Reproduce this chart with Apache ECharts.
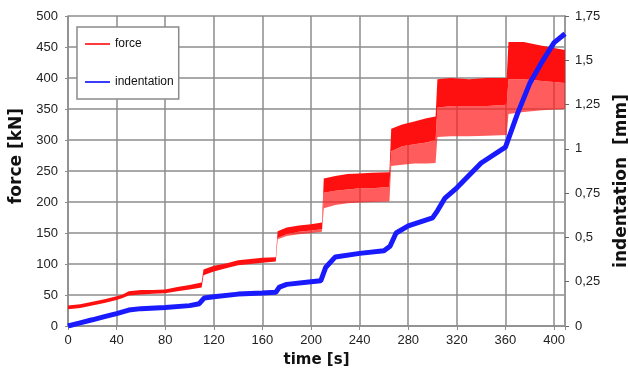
<!DOCTYPE html>
<html>
<head>
<meta charset="utf-8">
<script src="https://cdn.jsdelivr.net/npm/echarts@6/dist/echarts.min.js"></script>
<style>
  html, body { margin: 0; padding: 0; background: #fff; }
  #main { width: 628px; height: 377px; }
</style>
</head>
<body>
<div id="main"></div>
<script>
// force band: upper edge, bottom of the solid part, bottom of the stripes
var forceTime = [0, 10, 20, 30, 40, 45, 50, 60, 70, 80, 90, 100, 110, 111.5, 120, 130, 140, 150, 160, 171, 172.5, 180, 190, 200, 209, 210.5, 220, 230, 240, 250, 264.5, 266, 275, 285, 295, 302.5, 304, 315, 330, 345, 361, 362.5, 375, 390, 409];
var forceTop = [33, 35, 39, 43, 48, 51, 56, 58, 58, 59, 63, 66, 70, 91, 97, 101, 106, 108, 110, 111, 153, 159, 162, 164, 167, 238, 242, 245, 246, 247, 248, 318, 325, 330, 335, 338, 398, 400, 398, 400, 400, 458, 458, 452, 445];
var forceMid = [27, 29, 33, 37, 42, 45, 49, 51, 52, 53, 56, 59, 62, 82, 88, 93, 98, 100, 102, 104, 142, 148, 152, 154, 156, 215, 218, 220, 222, 222, 224, 282, 290, 293, 296, 300, 352, 355, 355, 355, 357, 398, 398, 395, 392];
var forceLow = [27, 29, 33, 37, 42, 45, 49, 51, 52, 53, 56, 59, 62, 82, 88, 93, 98, 100, 102, 104, 140, 145, 148, 150, 152, 190, 195, 198, 199, 200, 201, 258, 260, 262, 262, 263, 305, 306, 306, 307, 308, 342, 345, 348, 350];

// indentation [mm]
var indTime = [0, 10, 20, 30, 40, 50, 60, 80, 100, 108, 112, 120, 140, 160, 171, 174, 180, 200, 208, 212, 220, 240, 260, 265, 270, 280, 300, 304, 310, 320, 340, 360, 370, 380, 390, 400, 409];
var indValue = [0, 0.018, 0.035, 0.053, 0.07, 0.09, 0.098, 0.105, 0.115, 0.126, 0.158, 0.165, 0.18, 0.186, 0.19, 0.22, 0.235, 0.25, 0.255, 0.33, 0.39, 0.41, 0.425, 0.45, 0.525, 0.565, 0.61, 0.65, 0.72, 0.78, 0.92, 1.01, 1.2, 1.37, 1.49, 1.6, 1.65];

var gridColor = '#8c8c8c';
var labelFont = 'Liberation Sans';
var titleFont = 'DejaVu Sans';

// polygon between two edges, drawn through the axis scales
function bandSeries(upper, lower, color) {
  return {
    type: 'custom',
    name: 'force',
    coordinateSystem: 'cartesian2d',
    data: [[forceTime[0], upper[0]]],
    clip: true,
    z: 2,
    renderItem: function (params, api) {
      var pts = [];
      for (var i = 0; i < forceTime.length; i++) {
        pts.push(api.coord([forceTime[i], upper[i]]));
      }
      for (var j = forceTime.length - 1; j >= 0; j--) {
        pts.push(api.coord([forceTime[j], lower[j]]));
      }
      return { type: 'polygon', shape: { points: pts }, style: { fill: color } };
    }
  };
}

var indData = indTime.map(function (t, i) { return [t, indValue[i]]; });

var myChart = echarts.init(document.getElementById('main'));
var option = {
  animation: false,
  grid: { left: 68, right: 63, top: 16, bottom: 51, outerBoundsMode: 'none' },
  legend: {
    orient: 'vertical',
    left: 77,
    top: 27,
    padding: [11, 5, 11, 8],
    itemGap: 26,
    itemWidth: 25,
    itemHeight: 2,
    icon: 'rect',
    backgroundColor: '#fff',
    borderColor: '#8a8a8a',
    borderWidth: 1.5,
    textStyle: { fontFamily: labelFont, fontSize: 12, color: '#111' },
    data: [
      { name: 'force', itemStyle: { color: '#ff3b3b' } },
      { name: 'indentation', itemStyle: { color: '#3b3bff' } }
    ]
  },
  xAxis: {
    type: 'value',
    min: 0,
    max: 409,
    interval: 40,
    name: 'time [s]',
    nameLocation: 'middle',
    nameGap: 27,
    nameTextStyle: { fontFamily: titleFont, fontWeight: 'bold', fontSize: 15, color: '#111' },
    axisLine: { lineStyle: { color: gridColor, width: 1.5 } },
    axisTick: { length: 4, lineStyle: { color: gridColor } },
    axisLabel: {
      margin: 8,
      fontFamily: labelFont,
      fontSize: 13,
      color: '#222',
      formatter: function (v) { return v % 40 === 0 ? String(v) : ''; }
    },
    splitLine: { lineStyle: { color: gridColor, width: 1.5 } }
  },
  yAxis: [
    {
      type: 'value',
      min: 0,
      max: 500,
      interval: 50,
      name: 'force [kN]',
      nameLocation: 'middle',
      nameGap: 40,
      nameRotate: 90,
      nameTextStyle: { fontFamily: titleFont, fontWeight: 'bold', fontSize: 17, color: '#111', padding: [0, 0, 0, 30] },
      axisLine: { show: true, lineStyle: { color: gridColor, width: 1.5 } },
      axisTick: { show: true, length: 3, lineStyle: { color: gridColor } },
      axisLabel: { margin: 10, fontFamily: labelFont, fontSize: 13, color: '#222' },
      splitLine: { lineStyle: { color: gridColor, width: 1.5 } }
    },
    {
      type: 'value',
      position: 'right',
      min: 0,
      max: 1.75,
      interval: 0.25,
      name: 'indentation  [mm]',
      nameLocation: 'middle',
      nameGap: 48,
      nameRotate: 90,
      nameTextStyle: { fontFamily: titleFont, fontWeight: 'bold', fontSize: 17, color: '#111', padding: [0, 20, 0, 0] },
      axisLine: { show: true, lineStyle: { color: '#9a9a9a', width: 2 } },
      axisTick: { show: true, length: 4, lineStyle: { color: '#666' } },
      axisLabel: {
        margin: 10,
        fontFamily: labelFont,
        fontSize: 13,
        color: '#222',
        formatter: function (v) { return String(v).replace('.', ','); }
      },
      splitLine: { show: false }
    }
  ],
  series: [
    bandSeries(forceMid, forceLow, 'rgba(255, 30, 30, 0.72)'),
    bandSeries(forceTop, forceMid, '#ff1010'),
    {
      type: 'line',
      name: 'indentation',
      yAxisIndex: 1,
      data: indData,
      showSymbol: false,
      symbol: 'none',
      z: 3,
      lineStyle: { color: '#1a1aff', width: 5 }
    }
  ]
};

option && myChart.setOption(option);
</script>
</body>
</html>
